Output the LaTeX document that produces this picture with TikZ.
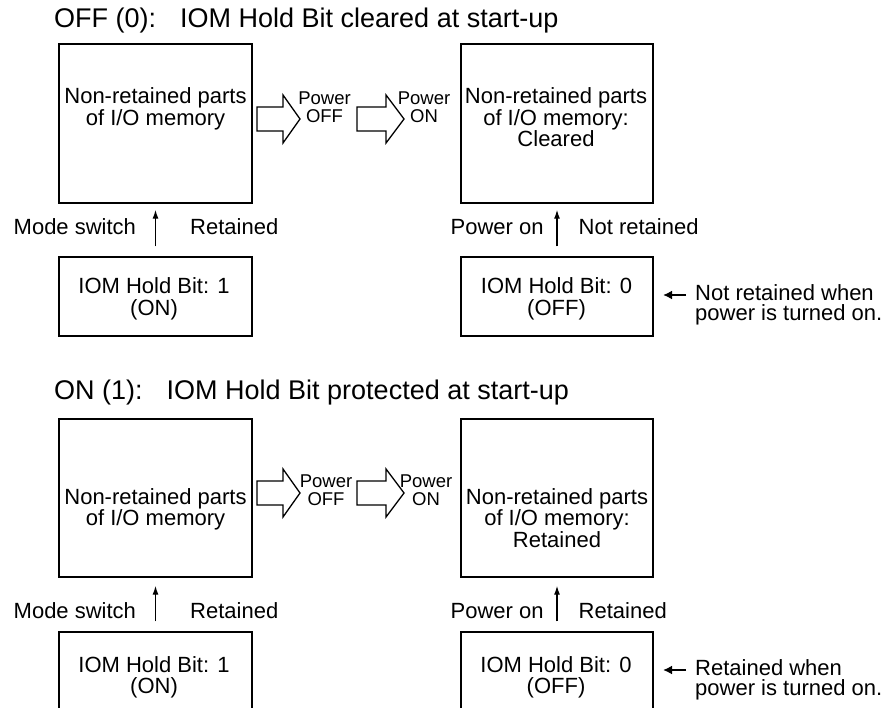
\documentclass[tikz,border=0pt]{standalone}
\usepackage{fontspec}
\setmainfont{Liberation Sans}
\usetikzlibrary{arrows.meta}
\begin{document}
\begin{tikzpicture}[x=1pt,y=-1pt,
  box/.style={draw, line width=1.4pt, inner sep=0pt, minimum width=193pt},
  btext/.style={font=\fontsize{22}{21.5}\selectfont, align=center, inner sep=0pt, anchor=base},
  ltext/.style={font=\fontsize{22}{21.5}\selectfont, inner sep=0pt, anchor=base west},
  ntext/.style={font=\fontsize{22}{20.5}\selectfont, align=left, inner sep=0pt, anchor=base west},
  ptext/.style={font=\fontsize{18.5}{18}\selectfont, align=center, inner sep=0pt, anchor=base},
  ttext/.style={font=\fontsize{27}{30}\selectfont, inner sep=0pt, anchor=base west},
  harrow/.style={draw, line width=1.3pt, line join=miter, fill=white},
  uparrow/.style={draw, line width=1.3pt, -{Latex[length=9pt,width=6pt]}},
  larrow/.style={draw, line width=1.8pt, -{Latex[length=9pt,width=9pt]}}
]
\useasboundingbox (0,0) rectangle (891,708);
\clip (0,0) rectangle (891,708);
\fill[white] (0,0) rectangle (891,708);

% ---------- Section 1 ----------
\node[ttext] (title1) at (54,28) {OFF (0):\hspace{24pt}IOM Hold Bit cleared at start-up};

\node[box, minimum height=159pt] (memA1) at (155.5,123.5) {};
\node[btext] (tA1) at (155.5,125.5) {Non-retained parts\\of I/O memory};
\node[box, minimum height=159pt, minimum width=192pt] (memB1) at (557,123.5) {};
\node[btext] (tB1) at (556,147) {Non-retained parts\\of I/O memory:\\Cleared};

\path[harrow] (257,107) -- (283,107) -- (283,95) -- (300,119) -- (283,143) -- (283,131) -- (257,131) -- cycle;
\path[harrow] (357,107) -- (386,107) -- (386,95) -- (404,119) -- (386,143) -- (386,131) -- (357,131) -- cycle;
\node[ptext] (pA1) at (324.5,123) {Power\\OFF};
\node[ptext] (pB1) at (424,123) {Power\\ON};

\node[box, minimum height=79pt] (hA1) at (155.5,296.5) {};
\node[btext] (thA1) at (154,315.5) {IOM Hold Bit: 1\\(ON)};
\node[box, minimum height=79pt, minimum width=192pt] (hB1) at (557,296.5) {};
\node[btext] (thB1) at (556.5,315.5) {IOM Hold Bit: 0\\(OFF)};

\draw[uparrow, shorten >=6pt, shorten <=10pt] (hA1.north) -- (memA1.south);
\draw[uparrow, shorten >=6pt, shorten <=10pt] (hB1.north) -- (memB1.south);
\node[ltext] (ms1) at (13.5,235) {Mode switch};
\node[ltext] (rt1) at (190,235) {Retained};
\node[ltext] (po1) at (450.5,235) {Power on};
\node[ltext] (nr1) at (578.5,235) {Not retained};

\node[ntext] (note1) at (695,320.5) {Not retained when\\power is turned on.};
\coordinate (n1s) at (686,295);
\coordinate (n1e) at (663,295);
\draw[larrow] (n1s) -- (n1e);

% ---------- Section 2 ----------
\node[ttext] (title2) at (54,399) {ON (1):\hspace{24pt}IOM Hold Bit protected at start-up};

\node[box, minimum height=158pt] (memA2) at (155.5,498) {};
\node[btext] (tA2) at (155.5,525.5) {Non-retained parts\\of I/O memory};
\node[box, minimum height=158pt, minimum width=192pt] (memB2) at (557,498) {};
\node[btext] (tB2) at (557,547) {Non-retained parts\\of I/O memory:\\Retained};

\path[harrow] (257,481) -- (283,481) -- (283,469) -- (300,493) -- (283,517) -- (283,505) -- (257,505) -- cycle;
\path[harrow] (357,481) -- (386,481) -- (386,469) -- (404,493) -- (386,517) -- (386,505) -- (357,505) -- cycle;
\node[ptext] (pA2) at (326,505) {Power\\OFF};
\node[ptext] (pB2) at (426,505) {Power\\ON};

\node[box, minimum height=158pt] (hA2) at (155.5,711) {};
\node[btext] (thA2) at (154,693.5) {IOM Hold Bit: 1\\(ON)};
\node[box, minimum height=158pt, minimum width=192pt] (hB2) at (557,711) {};
\node[btext] (thB2) at (556,693.5) {IOM Hold Bit: 0\\(OFF)};

\draw[uparrow, shorten >=8pt, shorten <=10pt] (hA2.north) -- (memA2.south);
\draw[uparrow, shorten >=8pt, shorten <=10pt] (hB2.north) -- (memB2.south);
\node[ltext] (ms2) at (13.5,618) {Mode switch};
\node[ltext] (rt2) at (190,618) {Retained};
\node[ltext] (po2) at (450.5,618) {Power on};
\node[ltext] (rt2b) at (578.5,618) {Retained};

\node[ntext] (note2) at (695,695.5) {Retained when\\power is turned on.};
\coordinate (n2s) at (686,670);
\coordinate (n2e) at (663,670);
\draw[larrow] (n2s) -- (n2e);
\end{tikzpicture}
\end{document}
